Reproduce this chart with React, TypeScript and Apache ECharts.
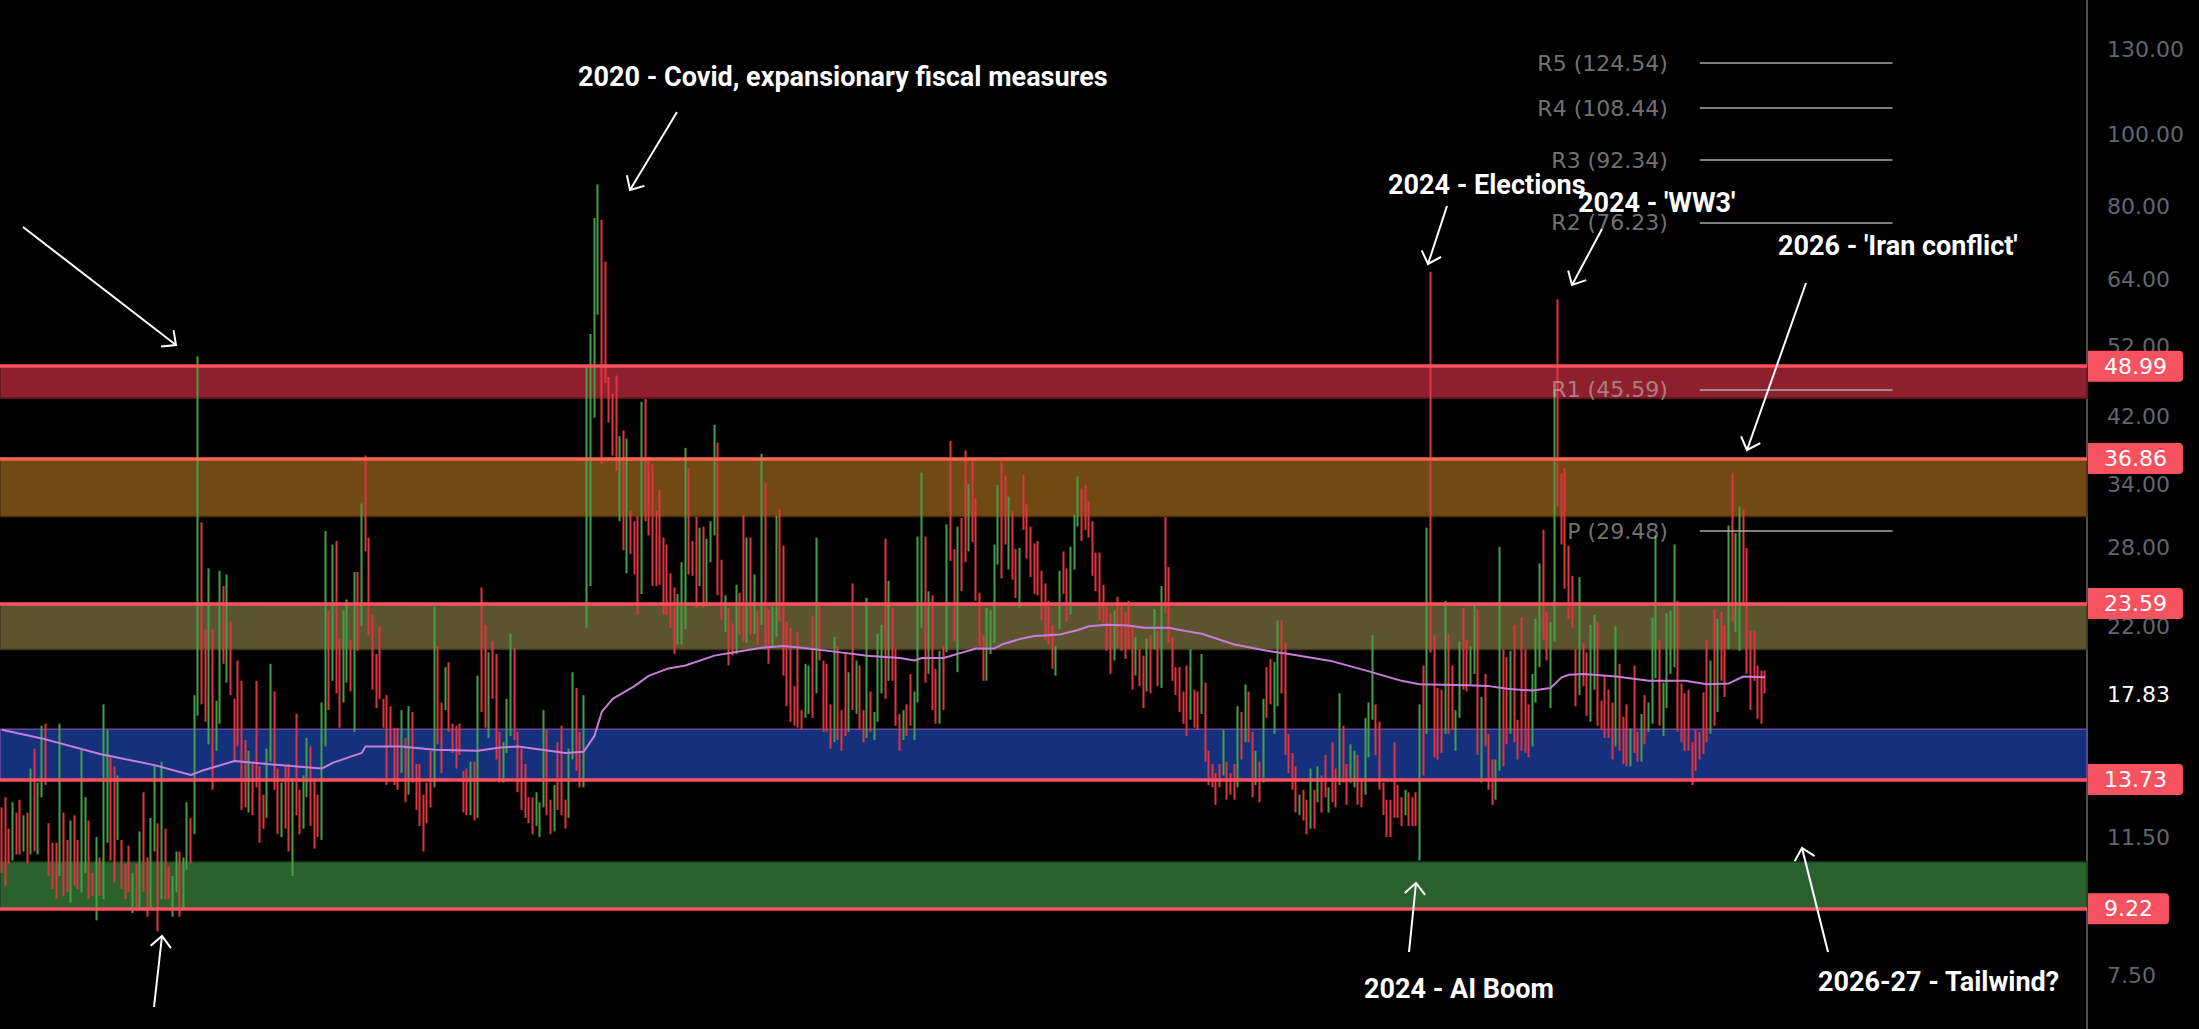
import React, { useEffect, useRef } from "react";
import * as echarts from "echarts";

// Weekly candles [open, close, low, high], first week = 2017-01-23
const ohlc2017 = [
  [11.5,10.6,10.3,12.6],[11.9,10.9,9.9,13.0],[11.3,10.85,10.6,11.8],[10.9,11.5,10.7,12.8],[11.9,11.5,10.9,12.4],
  [12.2,11.2,10.9,12.9],[11.3,11.7,11.0,12.3],[11.9,11.3,10.6,12.4],[11.4,12.9,10.9,14.2],[13.8,12.4,11.0,15.1],
  [12.0,12.9,10.9,13.6],[13.3,15.9,13.0,16.2],[15.6,14.6,13.5,16.3],[11.8,10.8,10.2,12.0],[11.0,10.6,9.8,11.3],
  [10.9,10.4,9.5,11.3],[10.5,12.0,10.2,16.3],[12.0,9.8,9.6,12.4],[10.6,9.8,9.7,11.4],[9.8,10.7,9.4,12.1],
  [11.2,10.4,9.9,12.3],[10.9,10.0,9.8,11.4],[10.2,11.2,9.7,15.1],[11.0,12.1,10.3,13.0],[11.9,9.6,9.5,12.1],
  [10.0,9.7,9.6,10.3],[9.3,10.3,8.9,11.5],[10.6,10.0,9.6,10.8],[10.0,15.5,9.5,17.3],[12.0,14.3,11.3,16.0],
  [14.4,11.3,10.7,14.7],[12.9,10.1,10.0,14.3],[11.6,12.1,11.4,13.9],[11.2,10.2,9.8,11.4],[10.4,9.6,9.5,10.6],
  [10.6,9.8,9.7,11.2],[9.3,9.7,9.1,10.3],[10.2,9.6,9.2,10.6],[9.5,10.0,9.2,11.7],[11.0,9.8,9.7,13.2],
  [10.5,9.1,9.0,10.8],[9.4,11.3,9.2,12.2],[11.3,11.8,11.0,14.4],[11.6,9.7,8.6,12.0],[9.9,11.4,9.5,14.5],
  [11.5,9.6,9.5,11.8],[10.3,9.9,9.5,10.5],[9.3,9.9,9.0,10.2],[10.0,10.9,9.7,11.0]
];
const ohlc2018 = [
  [10.8,9.2,9.0,11.0],[9.5,10.2,9.2,10.8],[10.6,11.3,10.4,12.8],[11.9,11.1,10.6,12.2],[11.9,17.3,11.6,17.8],
  [17.5,29.1,16.7,50.5],[28.5,19.5,17.3,30.3],[21.0,16.5,16.4,21.8],[16.0,19.6,15.3,26.3],[20.0,14.6,13.3,21.8],
  [15.1,15.8,15.0,17.5],[16.5,24.9,16.3,26.1],[23.0,20.0,19.6,24.9],[19.0,21.5,18.5,25.8],[21.5,17.9,17.8,22.3],
  [17.5,16.9,14.5,17.6],[17.8,15.4,15.2,19.8],[16.0,14.8,12.5,18.6],[15.0,12.7,12.6,15.5],[12.9,13.4,12.4,15.0],
  [13.8,13.2,12.3,14.5],[15.0,13.5,13.4,18.6],[13.6,12.2,11.3,14.3],[12.7,12.0,11.8,13.1],[12.4,13.8,12.2,15.1],
  [14.7,16.1,14.5,19.6],[16.2,13.4,13.3,18.0],[13.6,12.2,11.6,14.2],[11.9,12.9,11.5,13.6],[13.5,13.0,11.8,14.3],
  [13.8,11.6,11.0,14.4],[10.9,13.2,10.2,13.8],[14.5,12.6,12.3,16.8],[12.9,12.0,11.6,13.3],[12.0,12.9,11.8,13.9],
  [13.2,14.9,13.0,15.6],[14.9,12.1,11.9,15.2],[12.5,11.7,11.1,13.7],[12.4,12.1,11.5,13.1],[11.6,14.8,11.4,17.4],
  [15.6,21.3,15.2,29.5],[21.5,19.9,17.0,23.1],[19.0,24.2,18.6,28.3],[25.0,19.5,17.9,28.6],[20.0,17.4,16.1,21.2],
  [17.6,18.1,17.4,23.1],[18.8,21.5,18.5,23.9],[20.8,18.1,18.0,21.1],[16.4,23.2,15.9,26.0],[23.5,21.6,20.4,26.0],
  [22.3,30.1,22.0,32.1],[31.0,28.3,27.7,37.2],[28.0,21.4,21.4,28.9]
];
const ohlc2019 = [
  [21.7,18.2,18.1,22.8],[19.6,17.8,17.1,20.2],[19.0,17.7,17.6,22.0],[17.5,16.2,16.1,17.6],[16.5,15.7,13.5,17.8],
  [16.5,15.3,15.2,17.2],[15.4,13.6,13.5,16.1],[15.0,14.6,13.3,16.1],[14.7,16.05,14.0,17.0],[15.5,12.9,12.8,15.6],
  [13.6,16.48,13.1,17.2],[16.4,13.71,13.6,16.9],[13.5,12.82,12.5,14.4],[13.2,12.01,11.9,14.4],[12.5,12.09,11.0,13.1],
  [12.9,12.73,12.0,13.6],[13.0,12.87,12.6,15.0],[14.0,16.04,13.4,23.4],[19.6,15.96,15.3,20.7],[16.9,15.85,14.0,17.4],
  [17.3,18.71,17.0,19.4],[18.9,16.3,15.9,19.7],[15.9,15.28,14.9,16.3],[16.1,15.4,14.2,16.2],[15.3,15.08,14.8,16.3],
  [13.9,13.28,12.4,14.1],[13.9,12.39,12.3,14.2],[12.6,14.45,12.3,14.5],[14.0,12.16,12.1,14.5],[13.0,17.61,12.2,18.9],
  [19.2,17.97,16.9,24.8],[19.0,18.47,16.1,22.1],[16.5,19.87,15.6,20.3],[20.2,18.98,17.6,21.0],[19.7,15.0,14.6,20.2],
  [15.6,13.74,13.6,15.9],[14.6,15.32,13.6,15.4],[15.5,16.24,14.9,17.6],[16.7,17.04,15.7,21.5],[17.6,15.58,15.5,20.6],
  [15.7,14.25,13.2,15.9],[14.6,12.65,12.5,15.1],[13.3,12.3,12.2,14.4],[12.8,12.07,12.0,13.0],[12.9,12.05,11.6,13.0],
  [12.2,12.34,11.9,13.2],[12.4,12.62,11.5,12.8],[12.8,13.62,12.6,17.0],[14.1,12.63,12.3,16.0],[12.5,12.31,11.6,12.9],
  [12.5,13.43,11.7,13.5],[14.5,13.85,12.5,15.4]
];
const ohlc2020 = [
  [13.9,12.56,12.3,16.2],[12.6,12.1,11.8,12.9],[12.9,14.56,12.2,15.1],[16.7,18.84,14.6,19.1],[17.9,15.47,14.1,18.2],
  [15.8,13.68,13.4,15.9],[14.5,17.08,13.4,17.8],[24.4,40.1,21.9,49.1],[36.8,41.9,24.9,54.1],[51.1,57.8,41.8,77.3],
  [57.8,66.0,57.4,85.7],[66.0,61.0,36.2,76.9],[60.8,46.8,46.5,67.6],[45.0,41.7,41.2,47.4],[43.6,38.2,37.2,45.0],
  [42.0,35.9,35.5,47.6],[31.0,37.2,30.4,39.5],[37.0,28.0,27.8,40.2],[27.3,31.9,25.9,39.2],[31.0,28.2,27.5,31.4],
  [29.0,27.5,25.8,30.4],[28.5,24.5,22.8,30.9],[25.6,36.1,24.3,43.9],[38.0,35.1,30.4,44.3],[35.5,34.7,29.1,37.0],
  [34.5,27.7,24.9,36.2],[29.5,27.3,24.9,31.4],[28.0,25.7,25.0,33.5],[26.5,24.5,22.8,28.9],[27.0,24.5,22.8,28.3],
  [25.3,22.2,21.9,25.9],[23.6,22.1,20.2,24.8],[21.2,22.5,20.8,24.3],[21.5,23.0,20.8,26.8],[24.7,30.8,21.8,38.1],
  [32.0,26.9,25.8,35.8],[27.9,25.8,25.7,28.6],[27.8,26.4,23.3,30.8],[25.0,27.6,24.9,29.8],[28.0,25.0,23.3,29.9],
  [23.6,27.4,23.4,28.8],[27.0,27.55,26.8,30.4],[30.0,38.0,29.1,40.9],[37.1,24.9,24.2,38.7],[24.9,23.1,22.4,27.0],
  [22.0,23.7,21.6,24.2],[23.0,20.8,19.5,23.3],[21.6,20.8,20.1,22.2],[20.7,23.3,20.2,25.0],[23.5,21.6,21.4,24.4],
  [24.0,21.5,21.0,31.0],[21.2,22.75,20.9,28.9]
];
const ohlc2021 = [
  [26.0,21.6,21.4,28.9],[21.9,24.3,21.5,25.8],[22.5,21.0,20.8,23.1],[23.0,33.1,22.1,37.4],[31.2,20.9,20.7,34.2],
  [21.5,20.0,19.6,23.2],[21.0,22.1,20.7,23.4],[22.5,28.0,21.3,30.9],[27.0,24.7,22.3,31.6],[25.5,20.7,18.9,28.2],
  [21.5,20.9,17.2,22.3],[21.0,18.9,16.4,21.9],[18.2,17.3,16.2,18.3],[18.0,16.7,16.1,21.6],[16.8,16.25,16.0,17.0],
  [17.1,17.33,16.6,19.6],[18.0,18.61,16.8,19.5],[19.1,16.69,16.6,22.7],[18.2,18.81,17.9,28.9],[20.8,20.15,19.8,23.7],
  [19.6,16.76,15.9,19.8],[17.7,16.42,15.9,19.6],[16.4,15.65,15.1,17.3],[16.1,20.7,15.4,21.3],[20.6,15.62,15.5,20.7],
  [16.5,15.07,15.0,17.0],[16.4,16.18,15.7,20.3],[16.5,18.45,15.9,19.1],[21.8,17.2,17.0,25.1],[17.9,18.24,16.8,19.8],
  [18.9,16.15,16.0,19.5],[16.3,15.45,15.4,17.0],[16.0,18.56,15.6,24.0],[17.9,16.39,15.9,18.0],[16.4,16.41,15.5,16.9],
  [16.8,20.95,16.4,21.5],[20.6,20.81,17.9,22.1],[23.6,17.75,17.6,28.8],[18.9,21.15,18.6,25.3],[21.6,18.77,18.6,23.3],
  [19.6,16.3,16.2,20.5],[16.7,15.43,15.0,16.8],[16.0,16.26,15.5,17.0],[16.6,16.48,15.7,17.3],[17.6,16.29,16.2,19.0],
  [16.4,17.91,15.5,18.0],[18.3,28.62,17.4,29.0],[27.0,30.67,21.9,35.3],[28.5,18.69,18.5,29.0],[19.3,21.57,19.0,24.5],
  [22.9,17.96,17.0,24.2],[19.2,17.22,16.3,19.3]
];
const ohlc2022 = [
  [18.1,18.76,16.3,20.4],[19.4,19.19,17.0,20.7],[21.0,28.85,20.3,30.1],[31.0,27.66,26.9,38.9],[27.7,23.22,21.0,27.9],
  [23.3,27.36,19.1,29.9],[28.0,27.75,24.5,30.7],[28.3,27.59,26.8,37.8],[30.2,31.98,27.7,34.1],[34.2,30.75,28.5,36.6],
  [31.1,23.87,23.8,32.6],[24.3,20.81,20.7,24.4],[21.0,19.63,18.6,21.4],[19.7,21.16,18.6,23.3],[22.3,22.7,20.2,23.1],
  [22.8,28.21,20.9,28.3],[29.7,33.4,26.6,34.0],[33.5,30.19,25.5,36.5],[32.1,28.87,28.3,35.0],[28.7,29.43,26.2,32.8],
  [29.2,25.72,25.4,31.4],[26.3,24.79,24.0,27.9],[24.6,27.75,23.3,28.0],[32.0,31.13,29.6,35.1],[30.5,27.23,27.1,32.0],
  [27.5,26.7,25.6,29.9],[27.5,24.64,24.3,28.4],[26.3,24.23,24.2,28.6],[24.3,23.03,22.4,26.1],[24.0,21.33,21.1,25.1],
  [22.1,21.15,20.8,23.8],[21.6,19.53,19.3,22.1],[20.1,20.6,18.9,20.7],[24.0,25.56,21.8,26.1],[25.7,25.47,24.3,27.7],
  [26.0,22.79,22.3,26.3],[23.9,26.3,22.8,28.1],[27.3,29.92,26.2,31.0],[30.4,31.62,29.9,34.9],[31.7,31.36,28.6,33.6],
  [33.1,32.02,29.6,34.0],[31.0,29.69,28.9,32.3],[29.2,25.75,25.7,30.4],[25.8,24.55,24.5,27.6],[25.4,22.52,22.4,27.6],
  [23.8,23.12,22.2,25.0],[23.0,20.5,20.4,23.4],[21.9,19.06,19.0,22.9],[19.9,22.83,19.8,23.1],[23.8,22.62,20.6,24.1],
  [22.6,20.87,20.4,23.5],[21.9,21.67,19.9,23.0]
];
const ohlc2023 = [
  [22.1,21.13,20.5,23.8],[21.7,18.35,18.1,22.0],[19.0,19.85,18.9,21.3],[19.9,18.51,18.3,20.5],[19.4,18.33,17.1,20.1],
  [18.7,20.53,18.0,21.2],[21.3,20.02,17.9,21.4],[21.3,21.67,20.5,23.2],[20.9,18.49,18.3,21.7],[18.9,24.8,18.2,24.9],
  [26.7,25.51,22.9,30.8],[22.7,21.74,20.9,26.4],[20.5,18.7,18.6,21.3],[19.2,18.4,17.8,19.4],[18.4,17.07,16.9,19.4],
  [17.2,16.77,16.3,18.0],[16.9,15.78,15.7,19.5],[16.6,17.19,16.5,20.5],[17.2,17.03,16.1,18.1],[17.1,16.81,16.0,18.0],
  [16.9,17.95,16.8,20.2],[17.6,14.6,14.5,18.5],[14.9,13.83,13.5,15.0],[14.0,13.54,13.4,14.4],[13.9,13.44,12.7,14.0],
  [14.0,13.59,13.4,14.4],[14.0,14.83,13.9,16.0],[14.3,13.34,12.9,14.5],[13.7,13.6,13.1,14.0],[14.0,13.33,12.9,14.4],
  [13.9,17.1,13.4,17.2],[16.5,14.84,14.6,16.9],[15.5,15.99,15.4,18.4],[17.9,15.68,15.4,18.0],[15.6,13.09,13.0,15.9],
  [13.6,13.84,13.5,15.0],[14.3,13.79,12.8,14.5],[13.8,17.2,13.6,17.6],[17.8,17.52,16.6,19.4],[18.7,17.45,17.3,19.9],
  [17.7,19.32,15.8,19.7],[19.0,21.71,17.2,22.4],[21.3,21.27,17.9,22.4],[20.7,14.91,14.8,20.9],[14.9,14.17,14.0,15.8],
  [14.8,13.8,13.3,14.9],[13.9,12.46,12.4,14.3],[12.6,12.63,12.3,13.1],[13.1,12.35,12.1,13.3],[12.6,12.28,11.6,12.9],
  [12.4,13.03,11.8,14.2],[13.1,12.45,11.8,13.3]
];
const ohlc2024 = [
  [13.2,13.35,12.8,14.3],[13.8,12.7,12.4,13.9],[13.8,13.3,13.0,14.8],[13.2,13.26,12.4,13.4],[14.0,13.85,12.8,15.4],
  [13.9,12.93,12.6,14.2],[13.6,14.24,13.5,17.9],[15.5,13.75,13.6,16.2],[13.8,13.11,12.7,14.4],[14.2,14.74,13.6,15.3],
  [14.3,14.41,13.4,15.0],[14.6,13.06,12.7,14.8],[13.1,13.01,12.6,13.8],[13.9,16.03,13.1,16.6],[15.0,17.31,14.7,17.4],
  [18.0,18.71,16.5,21.4],[17.0,15.03,14.8,17.3],[15.5,13.49,13.3,16.4],[13.5,12.55,12.3,13.6],[12.8,11.99,11.5,12.9],
  [12.0,11.93,11.5,12.9],[12.7,12.22,12.2,15.4],[13.3,12.22,12.2,13.5],[12.8,12.66,11.9,13.0],[12.8,13.2,12.3,13.3],
  [13.0,12.44,11.9,13.2],[12.6,12.48,11.9,13.0],[12.6,12.46,11.9,13.2],[12.9,16.5,10.7,17.3],[17.0,16.4,13.9,19.5],
  [16.5,23.4,15.8,29.8],[23.4,20.4,20.3,65.5],[20.7,14.8,14.7,21.4],[16.2,15.9,14.6,18.2],[16.4,15.0,14.9,18.1],
  [16.2,22.4,15.8,23.8],[21.0,16.6,15.8,21.5],[17.3,16.2,16.0,19.5],[15.9,16.96,15.0,17.0],[16.8,19.2,16.6,21.0],
  [21.0,20.5,18.1,23.3],[20.5,18.1,18.0,21.1],[18.5,20.3,18.4,20.7],[19.5,21.9,19.0,23.5],[21.5,15.0,14.8,23.2],
  [14.0,16.1,13.6,17.7],[16.5,15.3,15.2,19.0],[15.2,13.5,13.3,15.8],[14.0,12.8,12.7,14.6],[13.2,13.8,12.9,14.6],
  [14.6,18.4,14.1,28.1],[18.5,16.0,14.3,20.5],[17.5,16.1,15.3,20.0]
];
const ohlc2025 = [
  [16.5,19.5,15.8,20.4],[20.0,16.0,15.4,22.1],[16.2,14.85,14.6,16.5],[18.5,16.4,15.0,22.6],[18.6,16.5,14.9,20.5],
  [16.8,14.8,14.7,17.3],[15.4,18.2,15.2,19.0],[18.5,19.6,17.4,22.5],[20.0,23.4,19.4,26.7],[25.2,21.8,21.1,29.6],
  [22.0,19.9,19.8,23.0],[17.5,21.7,17.1,22.3],[21.5,45.3,21.0,45.6],[57.0,37.6,31.8,60.2],[33.0,29.7,28.3,35.2],
  [34.0,24.8,24.7,35.8],[26.0,22.7,22.5,28.2],[24.0,22.0,21.9,25.7],[19.0,17.3,17.2,20.5],[18.0,22.3,17.8,25.6],
  [20.7,18.6,18.3,20.9],[19.7,16.8,16.7,20.3],[17.0,20.8,16.4,22.1],[19.0,20.6,18.1,22.8],[20.3,16.3,16.2,22.3],
  [17.0,16.4,16.0,17.5],[17.8,16.4,15.6,18.9],[17.2,16.4,15.6,18.1],[16.7,14.9,14.6,17.4],[15.4,20.4,15.2,22.0],
  [19.0,15.2,15.0,19.6],[16.4,14.8,14.4,16.65],[16.8,14.5,14.3,17.3],[14.5,15.8,14.3,16.06],[18.2,15.1,14.9,19.5],
  [15.6,14.6,14.5,15.9],[14.7,16.4,14.5,16.8],[17.2,15.5,15.3,17.8],[16.0,17.1,15.9,17.4],[16.6,21.5,16.3,22.6],
  [19.2,25.0,18.75,29.1],[20.8,16.4,16.2,21.1],[15.9,17.8,15.7,18.5],[17.4,21.6,17.1,22.9],[19.3,22.5,19.0,23.1],
  [19.8,24.6,19.4,28.3],[23.0,16.3,15.9,23.8],[17.8,15.6,15.4,18.45],[17.5,15.2,15.0,17.9],[17.6,15.3,15.0,18.1],
  [15.1,13.8,13.5,15.4],[15.7,14.3,14.1,16.0]
];
const ohlc2026 = [
  [15.6,14.8,14.6,15.9],[17.4,15.1,14.85,17.95],[20.2,15.8,15.4,21.1],[16.1,19.2,15.8,19.8],[22.4,16.7,16.2,23.2],
  [17.2,21.4,16.9,22.5],[22.6,19.0,18.6,23.0],[21.5,18.1,17.7,22.1],[20.9,27.5,20.5,30.0],[33.5,23.0,22.3,35.3],
  [22.0,27.0,21.6,29.3],[21.0,29.5,20.4,31.8],[30.5,24.2,23.6,31.6],[27.0,19.5,19.0,28.0],[21.0,17.4,17.0,21.7],
  [21.2,18.9,18.6,21.7],[19.0,16.8,16.55,19.5],[18.8,16.6,16.3,19.2],[19.0,18.0,17.9,19.2]
];

// Moving average line: candle index -> value
const maIdx = [0,11,27,42,52,55,64,73,88,91,99,100,110,119,131,137,142,155,160,163,165,168,174,178,183,188,196,201,209,215,220,229,238,247,251,253,259,265,268,273,275,280,284,291,296,299,304,310,314,321,324,330,339,348,354,366,376,385,390,403,409,414,421,426,429,431,435,444,453,463,469,475,479,485];
const maVal = [16.0,15.58,14.85,14.35,13.92,14.1,14.53,14.4,14.2,14.45,14.9,15.2,15.2,15.05,15.0,15.15,15.2,14.9,14.95,15.7,16.9,17.6,18.3,18.9,19.3,19.5,20.1,20.3,20.6,20.7,20.6,20.35,20.1,19.95,19.8,19.95,19.95,20.35,20.55,20.55,20.8,21.15,21.35,21.45,21.75,22.0,22.1,22.05,21.9,21.9,21.75,21.5,20.8,20.4,20.2,19.75,19.15,18.6,18.4,18.35,18.3,18.15,18.05,18.2,18.8,18.95,19.0,18.85,18.6,18.6,18.4,18.45,18.85,18.8];

// Horizontal levels (price tags) and zones
const levelValues = [48.99, 36.86, 23.59, 13.73, 9.22];
const levelColors = ["#F7525F", "#FA6450", "#F7525F", "#F7525F", "#F7525F"];
const bandTop = [48.99, 36.86, 23.59, 16.03, 10.65];
const bandBottom = [44.4, 30.84, 20.48, 13.73, 9.22];
const bandColors = ["#8E202D", "#714913", "#5B542E", "#15307D", "#2B612D"];
const bandBorders = ["#5a1219", "#4a300c", "#3a351c", "#6a4aa0", "#1d421f"];

// Right axis tick labels
const tickValues = [130, 100, 80, 64, 52, 42, 34, 28, 22, 17.83, 11.5, 7.5];

// Pivot levels
const pivotNames = ["R5", "R4", "R3", "R2", "R1", "P"];
const pivotValues = [124.54, 108.44, 92.34, 76.23, 45.59, 29.48];

// Annotations
const noteTexts = [
  "2020 - Covid, expansionary fiscal measures",
  "2024 - Elections",
  "2024 - 'WW3'",
  "2026 - 'Iran conflict'",
  "2024 - AI Boom",
  "2026-27 - Tailwind?",
];
const notePos = [[578, 77], [1388, 185], [1578, 203], [1778, 246], [1364, 989], [1818, 982]];
const arrowLines = [
  [23, 227, 176, 345], [677, 112, 630, 190], [1447, 206, 1428, 264], [1602, 229, 1572, 285],
  [1806, 283, 1747, 450], [154, 1007, 162, 936], [1409, 952, 1416, 883], [1828, 952, 1802, 848],
];

const candles = [
  ...ohlc2017, ...ohlc2018, ...ohlc2019, ...ohlc2020, ...ohlc2021,
  ...ohlc2022, ...ohlc2023, ...ohlc2024, ...ohlc2025, ...ohlc2026,
];
const SLOTS = 574;
const categories = Array.from({ length: SLOTS }, (_, i) =>
  new Date(Date.UTC(2017, 0, 23) + i * 7 * 86400000).toISOString().slice(0, 10)
);
const PIVOT_START = 467;
const PIVOT_END = 520;

const UP = "#43A047";
const DOWN = "#E0353F";

function arrowHead(x1: number, y1: number, x2: number, y2: number) {
  const a = Math.atan2(y2 - y1, x2 - x1);
  const len = 15, ang = 0.75;
  return [
    [x2 - len * Math.cos(a - ang), y2 - len * Math.sin(a - ang)],
    [x2, y2],
    [x2 - len * Math.cos(a + ang), y2 - len * Math.sin(a + ang)],
  ];
}

export default function App() {
  const ref = useRef<HTMLDivElement>(null);
  useEffect(() => {
    document.body.style.margin = "0";
    document.body.style.background = "#000";
    const chart = echarts.init(ref.current!, null, { renderer: "svg", width: 2199, height: 1029 });

    const maData: (number | null)[] = candles.map(() => null);
    maIdx.forEach((idx, k) => { maData[idx] = maVal[k]; });

    const graphic: any[] = [];
    noteTexts.forEach((t, i) => {
      graphic.push({
        type: "text", x: notePos[i][0], y: notePos[i][1], silent: true, z: 100,
        style: { text: t, fill: "#ffffff", font: "bold 27px Roboto", textAlign: "left", textVerticalAlign: "middle", align: "left", verticalAlign: "middle" },
      });
    });
    arrowLines.forEach((l) => {
      graphic.push({ type: "line", silent: true, z: 100, shape: { x1: l[0], y1: l[1], x2: l[2], y2: l[3] }, style: { stroke: "#ffffff", lineWidth: 2 } });
      graphic.push({ type: "polyline", silent: true, z: 100, shape: { points: arrowHead(l[0], l[1], l[2], l[3]) }, style: { stroke: "#ffffff", lineWidth: 2, fill: null } });
    });

    chart.setOption({
      animation: false,
      backgroundColor: "#000000",
      grid: { left: 0, right: 112, top: 0, bottom: 0 },
      xAxis: { type: "category", data: categories, show: false, boundaryGap: true },
      yAxis: {
        type: "log", logBase: 10, min: 6.37, max: 151.2, position: "right",
        axisLine: { show: true, lineStyle: { color: "#4a4d57", width: 2 } },
        axisTick: { show: false }, axisLabel: { show: false }, splitLine: { show: false },
      },
      series: [
        {
          type: "candlestick", data: candles, z: 2, clip: false, silent: true, barWidth: 1,
          itemStyle: { color: UP, color0: DOWN, borderColor: UP, borderColor0: DOWN, borderWidth: 2 },
          markArea: {
            silent: true,
            data: bandTop.map((t, i) => [
              { yAxis: t, itemStyle: { color: bandColors[i], borderColor: bandBorders[i], borderWidth: 1.5 } },
              { yAxis: bandBottom[i] },
            ]),
          },
          markLine: {
            silent: true, z: 6, symbol: ["none", "none"], animation: false,
            data: levelValues.map((v, i) => ({
              yAxis: v,
              lineStyle: { color: levelColors[i], width: 3.5, type: "solid" },
              label: {
                show: true, position: "end", distance: 1, formatter: v.toFixed(2),
                color: "#ffffff", backgroundColor: "#F7525F", borderRadius: [0, 4, 4, 0],
                padding: [3, 16, 3, 16], fontSize: 22, lineHeight: 25, fontFamily: "DejaVu Sans",
              },
            })),
          },
        },
        {
          type: "line", data: maData, z: 3, clip: false, silent: true, connectNulls: true,
          showSymbol: false, symbol: "none", smooth: false,
          lineStyle: { color: "#C77DD8", width: 2 },
          markLine: {
            silent: true, z: 5, symbol: ["none", "none"], animation: false,
            data: pivotValues.map((v, i) => [
              {
                coord: [PIVOT_START, v], name: `${pivotNames[i]} (${v.toFixed(2)})`,
                lineStyle: { color: "rgba(170,170,170,0.75)", width: 2, type: "solid" },
                label: {
                  show: true, position: "start", distance: 32, formatter: "{b}",
                  color: "rgba(190,190,190,0.62)", fontSize: 22, fontFamily: "DejaVu Sans",
                },
              },
              { coord: [PIVOT_END, v] },
            ]),
          },
        },
        {
          type: "line", data: [], z: 4, clip: false, silent: true,
          markLine: {
            silent: true, z: 4, symbol: ["none", "none"], animation: false,
            lineStyle: { width: 0, color: "rgba(0,0,0,0)" },
            data: tickValues.map((v) => ({
              yAxis: v,
              lineStyle: { width: 0, color: "rgba(0,0,0,0)" },
              label: {
                show: true, position: "end", distance: 20, formatter: v.toFixed(2),
                color: v === 17.83 ? "#ffffff" : "#62656f", fontSize: 22, fontFamily: "DejaVu Sans",
              },
            })),
          },
        },
      ],
      graphic,
    });
    return () => chart.dispose();
  }, []);
  return <div ref={ref} style={{ width: 2199, height: 1029, background: "#000" }} />;
}
